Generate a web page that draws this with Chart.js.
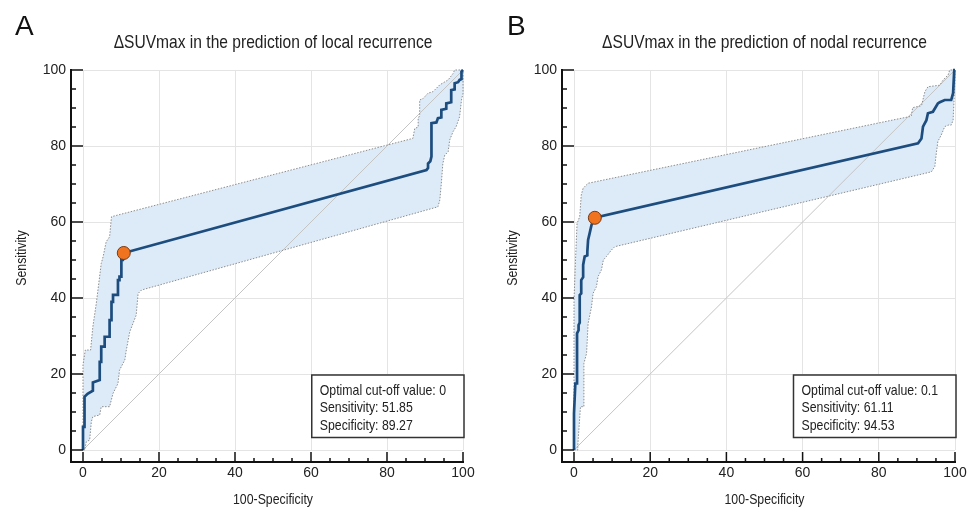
<!DOCTYPE html>
<html><head><meta charset="utf-8">
<script src="https://cdn.jsdelivr.net/npm/chart.js@4"></script>
<style>
html,body{margin:0;padding:0;background:#fff;}
#wrap{position:relative;width:971px;height:507px;overflow:hidden;}
.pane{position:absolute;top:0;height:507px;}
</style></head><body>
<div id="wrap">
<div class="pane" style="left:0;width:486px"><canvas id="cA"></canvas></div>
<div class="pane" style="left:486px;width:485px"><canvas id="cB"></canvas></div>
</div>
<script>
// ---------- data ----------
const tickValues = [0, 20, 40, 60, 80, 100];
const xAxisTitle = '100-Specificity';
const yAxisTitle = 'Sensitivity';

// Panel A
const aLetter = 'A';
const aTitle = 'ΔSUVmax in the prediction of local recurrence';
const aMainX = [0, 0, 0.4, 0.4, 1.2, 2.6, 2.6, 4.4, 4.4, 4.8, 4.8, 5.7, 5.7, 7.0, 7.0, 7.5, 7.5, 7.9, 7.9, 9.2, 9.2, 9.6, 9.6, 10.1, 10.1, 10.5, 10.73,
  90.4, 90.8, 90.8, 91.4, 91.7, 91.7, 93.0, 93.4, 94.3, 94.3, 95.6, 95.6, 96.9, 96.9, 97.8, 97.8, 98.7, 99.1, 99.6, 99.6, 100];
const aMainY = [0, 6.1, 6.1, 14, 14.8, 15.6, 17.8, 18.4, 23.2, 23.2, 27.2, 27.2, 29.8, 29.8, 34.2, 34.2, 39, 39, 40.8, 40.8, 44.7, 44.7, 45.6, 45.6, 50, 50, 51.85,
  73.7, 74.2, 75.4, 76, 77.2, 86.0, 86.2, 87.3, 87.5, 89.5, 89.8, 91.2, 91.5, 94.7, 94.9, 96.5, 96.8, 97.4, 97.6, 99.6, 100];
const aUpperX = [0, 0, 0.6, 2.0, 2.6, 3.5, 4.8, 5.3, 6.1, 7.0, 7.5,
  86.8, 87.3, 88.2, 88.2, 88.6, 88.6, 89.5, 90.8, 92.1, 93.9, 96.1, 97.4, 97.8, 100];
const aUpperY = [0, 22.4, 26.3, 26.3, 32.5, 38.6, 49.1, 50.9, 54.8, 56.1, 61.4,
  82.0, 84.6, 85.0, 87.3, 88.0, 92.1, 92.5, 93.9, 94.3, 96.1, 97.4, 99.1, 100, 100];
const aLowerX = [0, 0.44, 0.88, 1.75, 2.2, 2.6, 4.4, 4.8, 7.0, 7.9, 9.2, 9.6, 11.0, 11.4, 12.3, 14.0, 14.5, 15.4,
  93.4, 93.9, 94.3, 94.7, 95.2, 96.1, 96.5, 97.4, 98.2, 99.1, 99.6, 100, 100];
const aLowerY = [0, 0, 2.2, 2.6, 7.5, 8.8, 9.2, 11.4, 11.4, 14.9, 17.5, 21.0, 23.7, 26.3, 31.1, 35.5, 41.2, 42.1,
  64.0, 65.8, 70.2, 75.4, 77.6, 78.5, 81.6, 83.8, 85.1, 87.7, 92.1, 93.9, 100];
const aOptimal = [10.73, 51.85];
const aBox = ['Optimal cut-off value: 0', 'Sensitivity: 51.85', 'Specificity: 89.27'];

// Panel B
const bLetter = 'B';
const bTitle = 'ΔSUVmax in the prediction of nodal recurrence';
const bMainX = [0, 0, 0.35, 0.8, 0.8, 1.2, 1.2, 1.5, 1.5, 1.9, 1.9, 2.4, 2.4, 2.8, 3.5, 3.5, 3.7, 4.1, 4.6, 5.47,
  90.3, 91.2, 91.6, 92.5, 92.9, 94.2, 95.5, 96.0, 97.3, 99.0, 99.5, 99.8, 100];
const bMainY = [0, 9.6, 17.5, 17.5, 30.7, 31.5, 32.9, 33.5, 40.8, 41.2, 44.7, 45.5, 48.7, 50.9, 51.2, 52.2, 55.3, 57, 59.2, 61.11,
  80.7, 82, 85.1, 86.8, 88.6, 89, 91.2, 91.5, 92.1, 92.1, 93.9, 100, 100];
const bUpperX = [0, 0, 0.4, 0.8, 1.5, 1.9, 2.4, 3.2, 3.7,
  85.9, 88.5, 88.9, 91.2, 92.1, 92.9, 96.0, 96.9, 98.2, 98.6, 100];
const bUpperY = [0, 39.5, 50, 59.6, 61.4, 67.1, 68.9, 69.7, 70.2,
  87.3, 87.8, 90.1, 90.6, 94.3, 95.6, 96, 97.4, 98.7, 100, 100];
const bLowerX = [0, 1.0, 1.0, 1.7, 2.6, 2.6, 3.3, 3.7, 4.6, 5.0, 5.9, 6.3, 7.2, 7.7, 8.5, 9.8, 10.7,
  93.8, 94.7, 95.1, 95.5, 96.4, 97.3, 98.2, 99.0, 99.5, 100, 100];
const bLowerY = [0, 0, 1.3, 11.4, 11.4, 22.8, 25.4, 33.3, 37.7, 41.2, 43, 45.6, 47.4, 50, 50.9, 52.6, 53.5,
  73.2, 74.6, 78.1, 81.2, 82.9, 85.1, 85.5, 85.5, 86.8, 97.4, 100];
const bOptimal = [5.47, 61.11];
const bBox = ['Optimal cut-off value: 0.1', 'Sensitivity: 61.11', 'Specificity: 94.53'];

// ---------- rendering ----------
const REGULAR = "'Liberation Sans', Arial, sans-serif";
const SX = 0.82; // horizontal condensing to mimic a narrow typeface
const toPts = (xs, ys) => xs.map((x, i) => ({x: x, y: ys[i]}));

function narrowText(ctx, text, x, y, size, align, baseline, rotate) {
  ctx.save();
  ctx.translate(x, y);
  if (rotate) ctx.rotate(-Math.PI / 2);
  ctx.scale(SX, 1);
  ctx.font = size + 'px ' + REGULAR;
  ctx.textAlign = align; ctx.textBaseline = baseline;
  ctx.fillText(text, 0, 0);
  ctx.restore();
}

function decoPlugin(p) {
  return {
    id: 'deco' + p.letter,
    afterDraw(chart) {
      const ctx = chart.ctx, xs = chart.scales.x, ys = chart.scales.y;
      const ca = chart.chartArea;
      const cx = (ca.left + ca.right) / 2;
      ctx.save();
      ctx.fillStyle = '#111';
      // panel letter
      ctx.font = '28px ' + REGULAR;
      ctx.textAlign = 'left'; ctx.textBaseline = 'alphabetic';
      ctx.fillText(p.letter, p.letterX, 35);
      // chart title and axis titles
      ctx.fillStyle = '#222';
      narrowText(ctx, p.title, cx, 48, 19, 'center', 'alphabetic', false);
      narrowText(ctx, xAxisTitle, cx, 504, 15, 'center', 'alphabetic', false);
      narrowText(ctx, yAxisTitle, p.yTitleX, 258, 15, 'center', 'middle', true);
      // offset axes with inward tick marks
      const axX = ca.left - 12, axY = ca.bottom + 12;
      ctx.strokeStyle = '#111';
      ctx.lineWidth = 2;
      ctx.beginPath();
      ctx.moveTo(axX, ca.top - 1); ctx.lineTo(axX, axY);
      ctx.lineTo(ca.right + 1, axY);
      ctx.stroke();
      ctx.lineWidth = 1.5;
      ctx.beginPath();
      for (let v = 0; v <= 100; v += 5) {
        const major = v % 20 === 0;
        const py = ys.getPixelForValue(v);
        ctx.moveTo(axX, py); ctx.lineTo(axX + (major ? 12 : 5), py);
        const px = xs.getPixelForValue(v);
        ctx.moveTo(px, axY); ctx.lineTo(px, axY - (major ? 10 : 4));
      }
      ctx.stroke();
      // info box
      ctx.font = '15px ' + REGULAR;
      let w = 0;
      p.box.forEach(t => { w = Math.max(w, ctx.measureText(t).width * SX); });
      const right = ca.right + 1, left = right - (w + 26);
      const top = ca.bottom - 75, bottom = ca.bottom - 12.5;
      ctx.fillStyle = '#fff';
      ctx.fillRect(left, top, right - left, bottom - top);
      ctx.strokeStyle = '#333'; ctx.lineWidth = 1.5;
      ctx.strokeRect(left, top, right - left, bottom - top);
      ctx.fillStyle = '#222';
      p.box.forEach((t, i) => narrowText(ctx, t, left + 8, top + 19.5 + i * 17.5, 15, 'left', 'alphabetic', false));
      ctx.restore();
    }
  };
}

function makeChart(id, p) {
  const band = toPts(p.upX, p.upY).concat(toPts(p.loX, p.loY).reverse());
  const ends = [tickValues[0], tickValues[tickValues.length - 1]];
  return new Chart(document.getElementById(id), {
    type: 'scatter',
    data: {
      datasets: [
        {data: [{x: p.opt[0], y: p.opt[1]}], pointRadius: 6.5, pointBackgroundColor: '#f07420',
         pointBorderColor: '#7a3a12', pointBorderWidth: 1, order: 0, clip: 10},
        {data: toPts(p.mainX, p.mainY), showLine: true, borderColor: '#1d4d7e', borderWidth: 2.7,
         pointRadius: 0, fill: false, order: 1, clip: 5},
        {data: toPts(p.upX, p.upY), showLine: true, borderColor: '#8c8c8c', borderWidth: 1,
         borderDash: [1.5, 1.5], pointRadius: 0, fill: false, order: 2, clip: 5},
        {data: toPts(p.loX, p.loY), showLine: true, borderColor: '#8c8c8c', borderWidth: 1,
         borderDash: [1.5, 1.5], pointRadius: 0, fill: false, order: 2, clip: 5},
        {data: [{x: ends[0], y: ends[0]}, {x: ends[1], y: ends[1]}],
         showLine: true, borderColor: '#c4c4c4', borderWidth: 1, pointRadius: 0, fill: false, order: 3},
        {data: band, showLine: true, borderWidth: 0, borderColor: 'rgba(0,0,0,0)', pointRadius: 0,
         fill: 'shape', backgroundColor: '#ddebf9', order: 4}
      ]
    },
    options: {
      responsive: true, maintainAspectRatio: false, animation: false, events: [],
      layout: {padding: {top: 70, left: 0, right: p.rightPad, bottom: 0}},
      plugins: {legend: {display: false}, tooltip: {enabled: false}, title: {display: false}},
      scales: {
        x: {
          type: 'linear', min: 0, max: 100,
          afterBuildTicks: s => { s.ticks = tickValues.map(v => ({value: v})); },
          afterFit: s => { s.height = 57; s.paddingLeft = 0; s.paddingRight = 0; },
          grid: {color: '#e4e4e4', lineWidth: 1, drawTicks: false},
          border: {display: false},
          ticks: {padding: 15, color: '#222', font: {family: REGULAR, size: 14}},
          title: {display: false}
        },
        y: {
          type: 'linear', min: 0, max: 100,
          afterBuildTicks: s => { s.ticks = tickValues.map(v => ({value: v})); },
          afterFit: s => { s.width = p.leftW; s.paddingTop = 0; s.paddingBottom = 0; },
          grid: {color: '#e4e4e4', lineWidth: 1, drawTicks: false},
          border: {display: false},
          ticks: {padding: 17, color: '#222', font: {family: REGULAR, size: 14}},
          title: {display: false}
        }
      }
    },
    plugins: [decoPlugin(p)]
  });
}

makeChart('cA', {letter: aLetter, title: aTitle, mainX: aMainX, mainY: aMainY, upX: aUpperX, upY: aUpperY,
  loX: aLowerX, loY: aLowerY, opt: aOptimal, box: aBox, leftW: 83, rightPad: 23, letterX: 15, yTitleX: 21.7});
makeChart('cB', {letter: bLetter, title: bTitle, mainX: bMainX, mainY: bMainY, upX: bUpperX, upY: bUpperY,
  loX: bLowerX, loY: bLowerY, opt: bOptimal, box: bBox, leftW: 88, rightPad: 16, letterX: 21, yTitleX: 27.3});
</script>
</body></html>
